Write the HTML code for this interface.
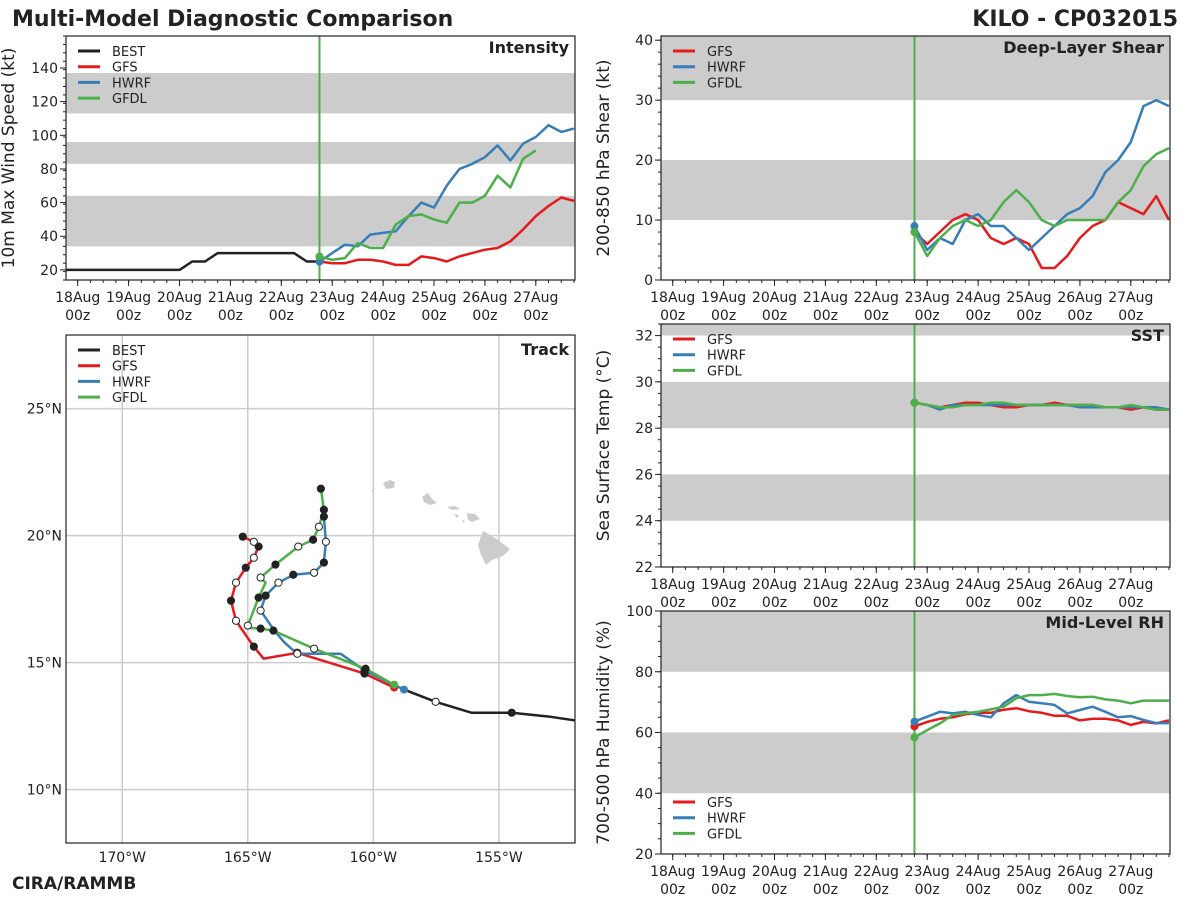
<!DOCTYPE html>
<html><head><meta charset="utf-8"><style>
html,body{margin:0;padding:0;background:#fff;}
svg{display:block;font-family:"DejaVu Sans","Liberation Sans",sans-serif;}
</style></head><body>
<svg id="fig" width="1200" height="900" viewBox="0 0 1200 900">
<text x="12" y="26" font-size="22" font-weight="bold" fill="#222">Multi-Model Diagnostic Comparison</text>
<text x="1178" y="26" font-size="22" font-weight="bold" fill="#222" text-anchor="end">KILO - CP032015</text>
<text x="12" y="889" font-size="17" font-weight="bold" fill="#222">CIRA/RAMMB</text>
</svg>
<script>
const dayLabels=['18Aug','19Aug','20Aug','21Aug','22Aug','23Aug','24Aug','25Aug','26Aug','27Aug'];
const bestDays=[-0.25,0,0.25,0.5,0.75,1,1.25,1.5,1.75,2,2.25,2.5,2.75,3,3.25,3.5,3.75,4,4.25,4.5,4.75];
const bestVmax=[20,20,20,20,20,20,20,20,20,20,25,25,30,30,30,30,30,30,30,25,25];
const gfsVmax=[25,24,24,26,26,25,23,23,28,27,25,28,30,32,33,37,44,52,58,63,61];
const hwrfVmax=[25,30,35,34,41,42,43,52,60,57,70,80,83,87,94,85,95,99,106,102,104];
const gfdlVmax=[28,26,27,36,33,33,47,52,53,50,48,60,60,64,76,69,86,91];
const gfsShear=[8,6,8,10,11,10,7,6,7,6,2,2,4,7,9,10,13,12,11,14,10];
const hwrfShear=[9,5,7,6,10,11,9,9,7,5,7,9,11,12,14,18,20,23,29,30,29];
const gfdlShear=[8,4,7,9,10,9,10,13,15,13,10,9,10,10,10,10,13,15,19,21,22];
const gfsSst=[29.1,29,28.9,29,29.1,29.1,29,28.9,28.9,29,29,29.1,29,29,29,28.9,28.9,28.8,28.9,28.8,28.8];
const hwrfSst=[29.1,29,28.8,29,29,29,29,29,29,29,29,29,29,28.9,28.9,28.9,28.9,28.9,28.9,28.9,28.8];
const gfdlSst=[29.1,29,28.9,28.9,29,29,29.1,29.1,29,29,29,29,29,29,29,28.9,28.9,29,28.9,28.8,28.8];
const gfsRh=[62,63.5,64.5,65,66,66.5,66.5,67.5,68,67,66.5,65.5,65.5,64,64.5,64.5,64,62.5,63.5,63,64];
const hwrfRh=[63.6,65.2,66.8,66.3,66.8,65.8,65,69.6,72.3,70.1,69.6,69.1,66.3,67.4,68.5,66.8,65,65.4,64.1,63.1,63.1];
const gfdlRh=[58.4,60.8,63,65.8,66.3,66.8,67.6,68.5,71.3,72.3,72.3,72.7,72,71.6,71.8,70.9,70.5,69.6,70.5,70.5,70.5];
const bestLon=[-151.9,-152.95,-154.49,-156.1,-157.52,-158.78];
const bestLat=[12.72,12.87,13.03,13.03,13.46,13.94];
const bestMk=['','','f','','o',''];
const gfsLon=[-159.17,-160.35,-163.03,-164.37,-164.76,-165.47,-165.67,-165.47,-165.08,-164.76,-164.57,-164.76,-165.2];
const gfsLat=[14.02,14.57,15.39,15.16,15.63,16.65,17.44,18.15,18.74,19.13,19.57,19.76,19.96];
const gfsMk=['','f','o','','f','o','f','o','f','o','f','o','f'];
const hwrfLon=[-158.78,-160.35,-161.3,-163.03,-163.54,-163.94,-164.49,-164.29,-163.78,-163.19,-162.36,-161.97,-161.89,-161.97];
const hwrfLat=[13.94,14.69,15.35,15.35,15.79,16.26,17.05,17.64,18.15,18.46,18.54,18.94,19.76,20.75];
const hwrfMk=['','f','','o','','','o','f','o','f','o','f','o','f'];
const gfdlLon=[-159.17,-160.31,-162.36,-163.98,-164.49,-165.08,-165.0,-164.57,-164.29,-164.49,-163.9,-162.99,-162.4,-162.17,-161.97,-162.09];
const gfdlLat=[14.13,14.76,15.55,16.26,16.34,16.38,16.46,17.56,18.15,18.35,18.86,19.57,19.84,20.35,21.02,21.85];
const gfdlMk=['','f','o','f','f','','o','f','','o','f','o','f','o','f','f'];

const NS='http://www.w3.org/2000/svg';
const svg=document.getElementById('fig');
const C={best:'#222222',gfs:'#e41a1c',hwrf:'#377eb8',gfdl:'#4daf4a'};
function el(tag,attrs,parent){const e=document.createElementNS(NS,tag);for(const k in attrs)e.setAttribute(k,attrs[k]);(parent||svg).appendChild(e);return e;}
function txt(x,y,s,attrs,parent){const t=el('text',Object.assign({x:x,y:y,'font-size':13,fill:'#222'},attrs||{}),parent);t.textContent=s;return t;}
const D0=-0.23,D1=9.77;
function modelDays(n){const a=[];for(let i=0;i<n;i++)a.push(4.75+i*0.25);return a;}

function timePanel(name,L,T,R,B,ymin,ymax,yTicks,bands,title,ylabel,minorStep,series,legendItems,legendBottom){
  const g=el('g',{});  
  const xs=d=>L+(d-D0)/(D1-D0)*(R-L);
  const ys=v=>B-(v-ymin)/(ymax-ymin)*(B-T);
  const clipId='clip-'+name;
  const cp=el('clipPath',{id:clipId},g); el('rect',{x:L,y:T,width:R-L,height:B-T},cp);
  bands.forEach(b=>{const top=Math.min(b[1],ymax);const r=el('rect',{x:L,y:ys(top),width:R-L,height:ys(b[0])-ys(top),fill:'#cccccc'},g);
     });
  const vl=el('line',{x1:xs(4.75),x2:xs(4.75),y1:T,y2:B,stroke:C.gfdl,'stroke-width':2},g);
   
  const sg=el('g',{'clip-path':'url(#'+clipId+')'},g);
  series.forEach(s=>{
    const pts=s.v.map((v,i)=>xs(s.d[i]).toFixed(1)+','+ys(v).toFixed(1)).join(' ');
    const pl=el('polyline',{points:pts,fill:'none',stroke:s.c,'stroke-width':2.5,'stroke-linejoin':'round'},sg);
     
    if(s.dot){const c=el('circle',{cx:xs(s.d[0]),cy:ys(s.v[0]),r:4,fill:s.c},sg);
       }
  });
  el('rect',{x:L,y:T,width:R-L,height:B-T,fill:'none',stroke:'#222','stroke-width':1.2},g);
  yTicks.forEach(v=>{el('line',{x1:L-6,x2:L,y1:ys(v),y2:ys(v),stroke:'#222'},g);
    const t=txt(L-8,ys(v)+5,String(v),{'text-anchor':'end','font-size':14},g);  });
  for(let v=ymin;v<=ymax+1e-9;v+=minorStep){el('line',{x1:L-3,x2:L,y1:ys(v),y2:ys(v),stroke:'#222'},g);}
  for(let d=0;d<=9;d++){const x=xs(d);el('line',{x1:x,x2:x,y1:B,y2:B+6,stroke:'#222'},g);
    const t1=txt(x,B+22,dayLabels[d],{'text-anchor':'middle','font-size':14},g);  
    const t2=txt(x,B+40,'00z',{'text-anchor':'middle','font-size':14},g);  }
  for(let d=0;d<=D1;d+=0.25){const x=xs(d);el('line',{x1:x,x2:x,y1:B,y2:B+3,stroke:'#222'},g);}
  const tt=txt(R-6,T+17,title,{'text-anchor':'end','font-weight':'bold','font-size':16},g);
   
  const yl=txt(0,0,ylabel,{'text-anchor':'middle','font-size':17,transform:'translate('+(L-52)+','+((T+B)/2)+') rotate(-90)'},g);
   
  legend(g,L+12,legendBottom?B-legendItems.length*16-4:T+15,legendItems);
}
function legend(g,x,y,items){
  const lg=el('g',{},g);  
  items.forEach((it,i)=>{const yy=y+i*15.7;
    el('line',{x1:x,x2:x+22,y1:yy,y2:yy,stroke:it[1],'stroke-width':3},lg);
    const t=txt(x+34,yy+5,it[0],{'font-size':13},lg);  });
}
const L3=[['GFS',C.gfs],['HWRF',C.hwrf],['GFDL',C.gfdl]];
const L4=[['BEST',C.best]].concat(L3);
timePanel('intensity',66,36,575,280,14,159,[20,40,60,80,100,120,140],[[34,64],[83,96],[113,137]],'Intensity','10m Max Wind Speed (kt)',5,
 [{n:'best',c:C.best,d:bestDays,v:bestVmax},{n:'gfs',c:C.gfs,d:modelDays(gfsVmax.length),v:gfsVmax,dot:1},
  {n:'hwrf',c:C.hwrf,d:modelDays(hwrfVmax.length),v:hwrfVmax,dot:1},{n:'gfdl',c:C.gfdl,d:modelDays(gfdlVmax.length),v:gfdlVmax,dot:1}],L4,false);
timePanel('shear',661,36,1170,280,0,40.7,[0,10,20,30,40],[[10,20],[30,41]],'Deep-Layer Shear','200-850 hPa Shear (kt)',2,
 [{n:'gfs',c:C.gfs,d:modelDays(21),v:gfsShear,dot:1},{n:'hwrf',c:C.hwrf,d:modelDays(21),v:hwrfShear,dot:1},{n:'gfdl',c:C.gfdl,d:modelDays(21),v:gfdlShear,dot:1}],L3,false);
timePanel('sst',661,324,1170,567,22,32.5,[22,24,26,28,30,32],[[24,26],[28,30],[32,33]],'SST','Sea Surface Temp (°C)',0.5,
 [{n:'gfs',c:C.gfs,d:modelDays(21),v:gfsSst,dot:1},{n:'hwrf',c:C.hwrf,d:modelDays(21),v:hwrfSst,dot:1},{n:'gfdl',c:C.gfdl,d:modelDays(21),v:gfdlSst,dot:1}],L3,false);
timePanel('rh',661,611,1170,854,20,100,[20,40,60,80,100],[[40,60],[80,100]],'Mid-Level RH','700-500 hPa Humidity (%)',5,
 [{n:'gfs',c:C.gfs,d:modelDays(21),v:gfsRh,dot:1},{n:'hwrf',c:C.hwrf,d:modelDays(21),v:hwrfRh,dot:1},{n:'gfdl',c:C.gfdl,d:modelDays(21),v:gfdlRh,dot:1}],L3,true);

(function(){
  const L=66,T=335,R=575,B=843;
  const lon0=-172.24,lon1=-151.97,lat0=7.9,lat1=27.9;
  const xs=lo=>L+(lo-lon0)/(lon1-lon0)*(R-L);
  const ys=la=>B-(la-lat0)/(lat1-lat0)*(B-T);
  const g=el('g',{});  
  const cp=el('clipPath',{id:'clip-track'},g); el('rect',{x:L,y:T,width:R-L,height:B-T},cp);
  const inner=el('g',{'clip-path':'url(#clip-track)'},g);
  [-170,-165,-160,-155].forEach(lo=>{el('line',{x1:xs(lo),x2:xs(lo),y1:T,y2:B,stroke:'#cccccc','stroke-width':1.5},inner);
    const t=txt(xs(lo),B+19,(-lo)+'°W',{'text-anchor':'middle','font-size':14},g);  });
  [10,15,20,25].forEach(la=>{el('line',{x1:L,x2:R,y1:ys(la),y2:ys(la),stroke:'#cccccc','stroke-width':1.5},inner);
    const t=txt(L-4,ys(la)+5,la+'°N',{'text-anchor':'end','font-size':14},g);  });
  const isl=[[[383,483],[390,480],[395,482],[394,488],[386,489]],
             [[422,497],[428,493],[432,499],[437,503],[430,505],[424,502]],
             [[447,507],[455,506],[460,509],[452,510]],[[467,513],[475,514],[480,519],[472,522],[468,520]],
             [[454,514],[459,515],[457,518]],[[462,520],[465,521],[463,523]],
             [[483,531],[490,535],[498,540],[510,549],[503,556],[492,560],[486,565],[481,555],[478,545]],[[371,491],[375,488],[373,492]]];
  isl.forEach(p=>{const s=el('polygon',{points:p.map(q=>q.join(',')).join(' '),fill:'#cccccc'},inner);
     });
  function track(n,c,lon,lat,mk){
    const pl=el('polyline',{points:lon.map((lo,i)=>xs(lo).toFixed(1)+','+ys(lat[i]).toFixed(1)).join(' '),fill:'none',stroke:c,'stroke-width':2.5,'stroke-linejoin':'round'},inner);
     
    return ()=>{mk.forEach((m,i)=>{if(!m)return;
      const ci=el('circle',{cx:xs(lon[i]),cy:ys(lat[i]),r:3.6,fill:m==='f'?'#222':'#fff',stroke:'#222','stroke-width':1},inner);
       });};
  }
  const mks=[track('best',C.best,bestLon,bestLat,bestMk),track('gfs',C.gfs,gfsLon,gfsLat,gfsMk),
    track('hwrf',C.hwrf,hwrfLon,hwrfLat,hwrfMk),track('gfdl',C.gfdl,gfdlLon,gfdlLat,gfdlMk)];
  [[gfsLon,gfsLat,C.gfs],[hwrfLon,hwrfLat,C.hwrf],[gfdlLon,gfdlLat,C.gfdl]].forEach(a=>{
    const c=el('circle',{cx:xs(a[0][0]),cy:ys(a[1][0]),r:4,fill:a[2]},inner);
     });
  mks.forEach(f=>f());
  el('rect',{x:L,y:T,width:R-L,height:B-T,fill:'none',stroke:'#222','stroke-width':1.2},g);
  const tt=txt(R-6,T+20,'Track',{'text-anchor':'end','font-weight':'bold','font-size':16},g);
   
  legend(g,L+12,T+15,L4);
})();
</script>
</body></html>
